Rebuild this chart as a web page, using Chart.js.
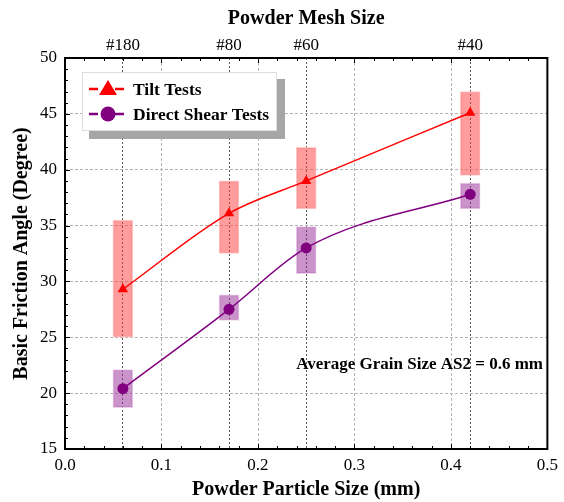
<!DOCTYPE html>
<html lang="en">
<head>
    <meta charset="UTF-8">
    <title>Basic Friction Angle</title>
    <script src="https://cdn.jsdelivr.net/npm/chart.js"></script>
    <style>
        * { margin: 0; padding: 0; box-sizing: border-box; }
        body { background: #ffffff; width: 564px; height: 502px; overflow: hidden; }
        .chart-box { position: relative; width: 564px; height: 502px; }
    </style>
</head>
<body>
    <div class="chart-box">
        <canvas id="frictionChart" width="564" height="502"></canvas>
    </div>

    <script>
        // particle size (mm) of each powder
        const particleSize = [0.06, 0.17, 0.25, 0.42];
        const meshLabels = ["#180", "#80", "#60", "#40"];
        const sizeTicks = [0, 0.1, 0.2, 0.3, 0.4, 0.5];

        // tilt tests: mean and spread
        const tiltMean = [29.3, 36.1, 39.0, 45.1];
        const tiltLow = [25.0, 32.5, 36.5, 39.5];
        const tiltHigh = [35.5, 39.0, 42.0, 47.0];

        // direct shear tests: mean and spread
        const shearMean = [20.4, 27.5, 33.0, 37.8];
        const shearLow = [18.7, 26.5, 30.7, 36.5];
        const shearHigh = [22.1, 28.8, 34.9, 38.8];

        const FONT = "'Liberation Serif', 'Times New Roman', serif";

        function points(ys) {
            return particleSize.map((x, i) => ({ x: x, y: ys[i] }));
        }
        function ranges(lo, hi) {
            return particleSize.map((x, i) => ({ x: x, y: [lo[i], hi[i]] }));
        }

        // vertical grid of the size axis (under the data)
        const sizeGridPlugin = {
            id: "sizeGrid",
            beforeDatasetsDraw(chart) {
                const ctx = chart.ctx;
                const a = chart.chartArea;
                const xs = chart.scales.x;
                ctx.save();
                ctx.strokeStyle = "#b4b4b4";
                ctx.lineWidth = 1;
                ctx.setLineDash([3, 2]);
                ctx.beginPath();
                sizeTicks.slice(1, -1).forEach(v => {
                    const px = Math.round(xs.getPixelForValue(v)) + 0.5;
                    ctx.moveTo(px, a.top);
                    ctx.lineTo(px, a.bottom);
                });
                ctx.stroke();
                ctx.restore();
            }
        };

        // frame, inward ticks, legend box and note
        const decorPlugin = {
            id: "decor",
            afterDraw(chart) {
                const ctx = chart.ctx;
                const a = chart.chartArea;
                const xs = chart.scales.x;
                const ys = chart.scales.y;
                ctx.save();
                ctx.strokeStyle = "#000";
                ctx.lineWidth = 1;
                ctx.beginPath();
                for (let i = 0; i <= 25; i++) {
                    const px = Math.round(xs.getPixelForValue(i * 0.02)) + 0.5;
                    const len = (i % 5 === 0) ? 5 : 3;
                    ctx.moveTo(px, a.bottom); ctx.lineTo(px, a.bottom - len);
                    ctx.moveTo(px, a.top); ctx.lineTo(px, a.top + len);
                }
                for (let v = 15; v <= 50; v++) {
                    const py = Math.round(ys.getPixelForValue(v)) + 0.5;
                    const len = (v % 5 === 0) ? 5 : 3;
                    ctx.moveTo(a.left, py); ctx.lineTo(a.left + len, py);
                }
                ctx.stroke();
                ctx.lineWidth = 2;
                ctx.strokeRect(a.left, a.top, a.right - a.left, a.bottom - a.top);

                // legend
                ctx.fillStyle = "#a6a6a6";
                ctx.fillRect(89, 79, 196, 60);
                ctx.fillStyle = "#fff";
                ctx.fillRect(82, 72, 195, 59);
                ctx.lineWidth = 1;
                ctx.strokeStyle = "#dddddd";
                ctx.strokeRect(82.5, 72.5, 194, 58);

                const rows = [
                    { y: 89, color: "#ff0000", label: "Tilt Tests", shape: "triangle" },
                    { y: 114, color: "#800080", label: "Direct Shear Tests", shape: "circle" }
                ];
                rows.forEach(r => {
                    ctx.strokeStyle = r.color;
                    ctx.fillStyle = r.color;
                    ctx.lineWidth = 2.5;
                    ctx.setLineDash([9, 4]);
                    ctx.beginPath();
                    ctx.moveTo(89, r.y); ctx.lineTo(127, r.y);
                    ctx.stroke();
                    ctx.setLineDash([]);
                    ctx.fillStyle = "#fff";
                    ctx.fillRect(101, r.y - 9, 14, 18);
                    ctx.fillStyle = r.color;
                    ctx.beginPath();
                    if (r.shape === "triangle") {
                        ctx.moveTo(108, r.y - 9); ctx.lineTo(117, r.y + 6); ctx.lineTo(99, r.y + 6);
                        ctx.closePath();
                    } else {
                        ctx.arc(108, r.y, 7.5, 0, Math.PI * 2);
                    }
                    ctx.fill();
                    ctx.fillStyle = "#000";
                    ctx.font = "bold 17.5px " + FONT;
                    ctx.textAlign = "left";
                    ctx.textBaseline = "middle";
                    ctx.fillText(r.label, 133, r.y + 1);
                });

                ctx.font = "bold 17px " + FONT;
                ctx.textAlign = "right";
                ctx.textBaseline = "middle";
                ctx.fillStyle = "#000";
                ctx.fillText("Average Grain Size AS2 = 0.6 mm", 543, 365);
                ctx.restore();
            }
        };

        new Chart(document.getElementById("frictionChart").getContext("2d"), {
            type: "line",
            data: {
                datasets: [
                    {
                        type: "bar",
                        label: "tilt range",
                        data: ranges(tiltLow, tiltHigh),
                        backgroundColor: "rgba(255, 60, 60, 0.5)",
                        borderColor: "rgba(255, 200, 200, 0.8)",
                        borderWidth: 1,
                        borderSkipped: false,
                        barThickness: 20,
                        grouped: false,
                        order: 3
                    },
                    {
                        type: "bar",
                        label: "shear range",
                        data: ranges(shearLow, shearHigh),
                        backgroundColor: "rgba(150, 40, 150, 0.5)",
                        borderColor: "rgba(230, 200, 230, 0.8)",
                        borderWidth: 1,
                        borderSkipped: false,
                        barThickness: 20,
                        grouped: false,
                        order: 3
                    },
                    {
                        label: "Tilt Tests",
                        data: points(tiltMean),
                        borderColor: "#ff0000",
                        backgroundColor: "#ff0000",
                        borderWidth: 1.5,
                        pointStyle: "triangle",
                        pointRadius: 6,
                        pointBorderWidth: 0,
                        cubicInterpolationMode: "monotone",
                        order: 1
                    },
                    {
                        label: "Direct Shear Tests",
                        data: points(shearMean),
                        borderColor: "#800080",
                        backgroundColor: "#800080",
                        borderWidth: 1.5,
                        pointStyle: "circle",
                        pointRadius: 5.5,
                        pointBorderWidth: 0,
                        cubicInterpolationMode: "monotone",
                        order: 1
                    }
                ]
            },
            options: {
                responsive: false,
                animation: false,
                layout: { padding: { right: 11, left: 0, top: 0, bottom: 0 } },
                plugins: {
                    legend: { display: false },
                    tooltip: { enabled: false }
                },
                scales: {
                    x: {
                        type: "linear",
                        position: "bottom",
                        min: 0,
                        max: 0.5,
                        offset: false,
                        afterFit: s => { s.height = 53; },
                        afterBuildTicks: s => { s.ticks = sizeTicks.map(v => ({ value: v })); },
                        ticks: {
                            padding: 6,
                            color: "#000",
                            autoSkip: false,
                            maxRotation: 0,
                            font: { family: FONT, size: 17 },
                            callback: v => v.toFixed(1)
                        },
                        grid: { display: false, drawTicks: false, offset: false },
                        border: { display: false },
                        title: {
                            display: true,
                            text: "Powder Particle Size (mm)",
                            color: "#000",
                            font: { family: FONT, size: 20, weight: "bold" },
                            padding: { top: 3, bottom: 0 }
                        }
                    },
                    x2: {
                        type: "linear",
                        position: "top",
                        min: 0,
                        max: 0.5,
                        offset: false,
                        afterFit: s => { s.height = 58; },
                        afterBuildTicks: s => { s.ticks = particleSize.map(v => ({ value: v })); },
                        ticks: {
                            padding: 2,
                            color: "#000",
                            autoSkip: false,
                            maxRotation: 0,
                            font: { family: FONT, size: 17 },
                            callback: v => meshLabels[particleSize.indexOf(v)]
                        },
                        grid: {
                            offset: false,
                            drawTicks: false,
                            color: "#555",
                            lineWidth: 1
                        },
                        border: { display: false, dash: [2, 2] },
                        title: {
                            display: true,
                            text: "Powder Mesh Size",
                            color: "#000",
                            font: { family: FONT, size: 20, weight: "bold" },
                            padding: { top: 7, bottom: 4 }
                        }
                    },
                    y: {
                        type: "linear",
                        min: 15,
                        max: 50,
                        afterFit: s => { s.width = 65; },
                        ticks: {
                            stepSize: 5,
                            padding: 8,
                            color: "#000",
                            font: { family: FONT, size: 17 }
                        },
                        grid: {
                            drawTicks: false,
                            color: "#b4b4b4",
                            lineWidth: 1
                        },
                        border: { display: false, dash: [3, 2] },
                        title: {
                            display: true,
                            text: "Basic Friction Angle (Degree)",
                            color: "#000",
                            font: { family: FONT, size: 20, weight: "bold" },
                            padding: { top: 10, bottom: 4 }
                        }
                    }
                }
            },
            plugins: [sizeGridPlugin, decorPlugin]
        });
    </script>
</body>
</html>
